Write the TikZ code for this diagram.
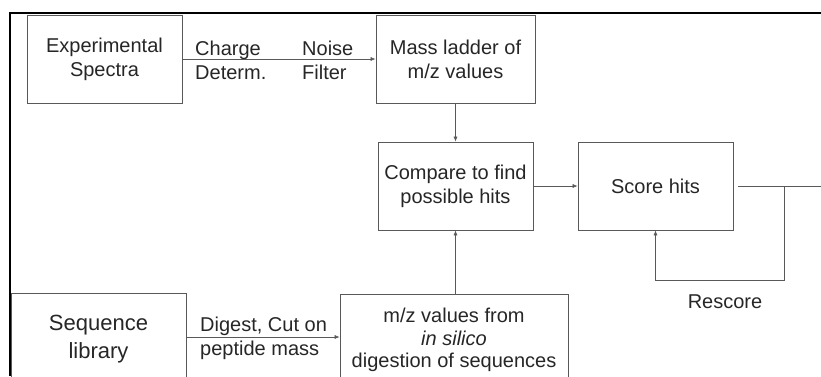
\documentclass[tikz,border=0pt]{standalone}
\usepackage{fontspec}
\setmainfont{Liberation Sans}
\usetikzlibrary{arrows.meta}
\begin{document}
\begin{tikzpicture}[x=1pt,y=-1pt,
        box/.style={draw=black!65,line width=0.7pt,align=center,inner sep=0pt,
            text=black!85,font=\fontsize{20}{24}\selectfont},
        lbl/.style={anchor=base west,inner sep=0pt,text=black!85,
            font=\fontsize{20}{24}\selectfont},
        flow/.style={draw=black!65,line width=0.6pt,-{Latex[length=5pt,width=4pt]}},
        wire/.style={draw=black!65,line width=0.6pt}]
    \useasboundingbox (0,0) rectangle (821,376);
    \clip (0,0) rectangle (821,376);
    % boxes
    \node[box,minimum width=155pt,minimum height=88pt] (spectra) at (104.5,59) {Experimental\\Spectra};
    \node[box,minimum width=159pt,minimum height=88pt] (ladder) at (455.5,59) {Mass ladder of\\m/z values};
    \node[box,minimum width=155pt,minimum height=88pt] (compare) at (455.5,186) {Compare to find\\possible hits};
    \node[box,minimum width=155pt,minimum height=88pt] (score) at (655.5,186) {Score hits};
    \node[box,minimum width=175pt,minimum height=92pt,
        font=\fontsize{22}{28}\selectfont] (seqlib) at (98.5,339) {Sequence\\library};
    \node[box,minimum width=228pt,minimum height=92pt,
        font=\fontsize{20}{22.5}\selectfont] (silico) at (454,340) {m/z values from\\\textit{in silico}\\digestion of sequences};
    % labels on the arrows
    \node[lbl] (charge) at (195,55) {Charge};
    \node[lbl] (determ) at (195,79) {Determ.};
    \node[lbl] (noise) at (302,55) {Noise};
    \node[lbl] (filter) at (302,79) {Filter};
    \node[lbl] (digest) at (200,331) {Digest, Cut on};
    \node[lbl] (peptide) at (200,355) {peptide mass};
    \node[lbl,anchor=base] (rescore) at (725,308) {Rescore};
    % arrows
    \draw[flow] (spectra.east) -- (ladder.west);
    \draw[flow] (ladder.south) -- (compare.north);
    \draw[flow] (silico.north -| compare.south) -- (compare.south);
    \draw[flow] (compare.east) -- (score.west);
    \draw[flow] (seqlib.east |- 0,337) -- (silico.west |- 0,337);
    \coordinate (out) at (821,186);
    \coordinate (branch) at (784,186);
    \coordinate (loopend) at (784,280);
    \draw[wire] ([xshift=5pt]score.east) -- (out);
    \draw[flow] (branch) -- (loopend) -| (score.south);
    % frame
    \draw[line width=2pt] (821,13) -- (10,13) -- (10,376);
\end{tikzpicture}
\end{document}
